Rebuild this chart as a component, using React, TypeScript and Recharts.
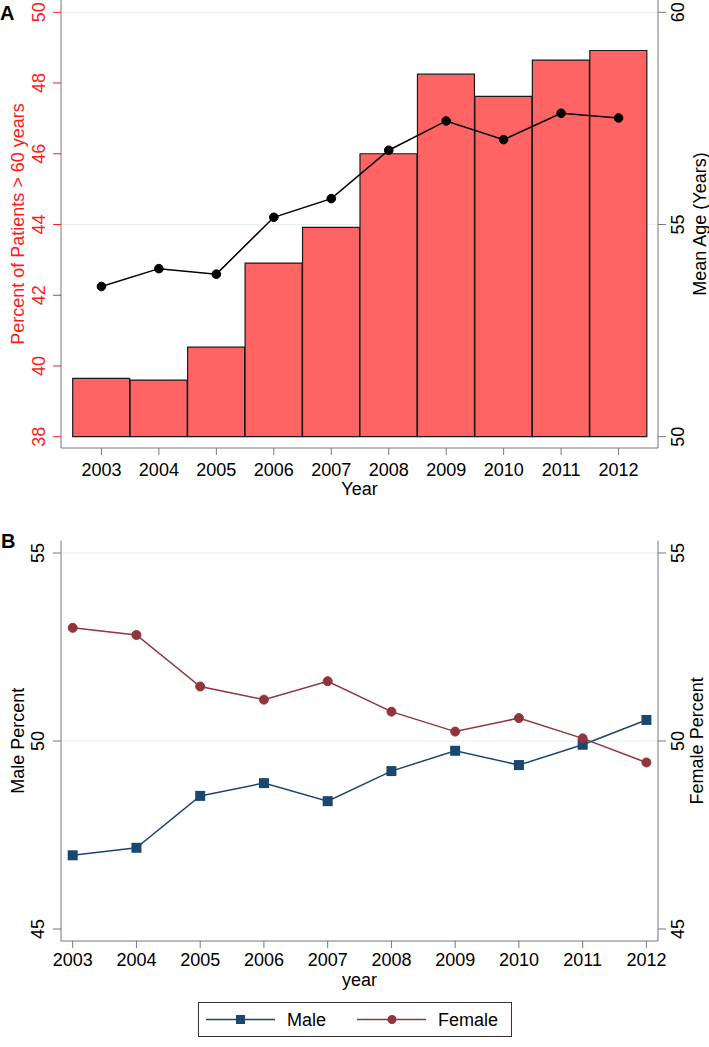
import React from 'react';
import {
  ComposedChart,
  LineChart,
  Bar,
  Line,
  XAxis,
  YAxis,
  CartesianGrid,
  Legend,
} from 'recharts';

const years = [2003, 2004, 2005, 2006, 2007, 2008, 2009, 2010, 2011, 2012];
const pctOver60 = [39.65, 39.6, 40.53, 42.91, 43.92, 46.0, 48.25, 47.62, 48.65, 48.92];
const meanAge = [53.54, 53.96, 53.83, 55.17, 55.61, 56.75, 57.44, 57.0, 57.62, 57.51];
const malePct = [46.96, 47.16, 48.54, 48.88, 48.4, 49.2, 49.74, 49.36, 49.9, 50.56];
const femalePct = [53.01, 52.82, 51.45, 51.1, 51.59, 50.78, 50.25, 50.61, 50.07, 49.43];

const pctTicks = [38, 40, 42, 44, 46, 48, 50];
const ageTicks = [50, 55, 60];
const sexTicks = [45, 50, 55];

const topData = years.map((year, i) => ({ year, pct: pctOver60[i], age: meanAge[i] }));
const bottomData = years.map((year, i) => ({ year, male: malePct[i], female: femalePct[i] }));

const FONT = '"Liberation Sans", Arial, Helvetica, sans-serif';
const AXIS = '#777777';
const RED = '#ff1a1a';
const NAVY = '#1a476f';
const MAROON = '#90353b';

const RotTick = (props: any) => {
  const { x, y, payload, dx, color } = props;
  const cx = x + dx;
  return (
    <text
      x={cx}
      y={y}
      transform={`rotate(-90 ${cx} ${y})`}
      textAnchor="middle"
      dominantBaseline="central"
      fill={color}
      fontSize={18}
      fontFamily={FONT}
    >
      {payload.value}
    </text>
  );
};

const vTitle = (text: string, dx: number, color: string) => (props: any) => {
  const vb = props.viewBox || { x: 0, y: 0, width: 0, height: 0 };
  const cx = vb.x + dx;
  const cy = vb.y + vb.height / 2;
  return (
    <text
      x={cx}
      y={cy}
      transform={`rotate(-90 ${cx} ${cy})`}
      textAnchor="middle"
      dominantBaseline="central"
      fill={color}
      fontSize={18}
      fontFamily={FONT}
    >
      {text}
    </text>
  );
};

const hTitle = (text: string, dy: number) => (props: any) => {
  const vb = props.viewBox || { x: 0, y: 0, width: 0, height: 0 };
  return (
    <text x={vb.x + vb.width / 2} y={vb.y + dy} textAnchor="middle" fill="#000" fontSize={18} fontFamily={FONT}>
      {text}
    </text>
  );
};

const SquareDot = (props: any) => {
  const { cx, cy, index } = props;
  return <rect key={`sq-${index}`} x={cx - 5} y={cy - 5} width={10} height={10} fill={NAVY} />;
};

const LegendBox = () => (
  <div style={{ height: 46, paddingTop: 11, boxSizing: 'border-box', display: 'flex', justifyContent: 'center' }}>
    <svg width={314} height={35} style={{ display: 'block', marginLeft: 1 }}>
      <rect x={0.5} y={0.5} width={313} height={34} fill="#fff" stroke="#333" strokeWidth={1} />
      <line x1={8} y1={17.5} x2={77} y2={17.5} stroke={NAVY} strokeWidth={1.5} />
      <rect x={38} y={13} width={9} height={9} fill={NAVY} />
      <text x={89} y={24} fontSize={18} fontFamily={FONT} fill="#000">Male</text>
      <line x1={159} y1={17.5} x2={228} y2={17.5} stroke={MAROON} strokeWidth={1.5} />
      <circle cx={194} cy={17.5} r={4.5} fill={MAROON} />
      <text x={240} y={24} fontSize={18} fontFamily={FONT} fill="#000">Female</text>
    </svg>
  </div>
);

export default function App() {
  return (
    <div style={{ position: 'absolute', left: 0, top: 0, width: 709, height: 1047, background: '#fff', fontFamily: FONT }}>
      <svg width={30} height={30} style={{ position: 'absolute', left: 0, top: 0 }}>
        <text x={0} y={19.5} fontSize={20} fontWeight="bold" fontFamily={FONT}>A</text>
      </svg>
      <svg width={30} height={30} style={{ position: 'absolute', left: 0, top: 525 }}>
        <text x={1} y={22.5} fontSize={20} fontWeight="bold" fontFamily={FONT}>B</text>
      </svg>

      <div style={{ position: 'absolute', left: 0, top: 0 }}>
        <ComposedChart
          width={709}
          height={510}
          data={topData}
          margin={{ top: 0, right: 0, bottom: 0, left: 0 }}
          barCategoryGap={0}
          barGap={0}
        >
          <CartesianGrid yAxisId="right" vertical={false} horizontalValues={[55, 60]} stroke="#e6eeee" strokeWidth={1.2} />
          <XAxis
            dataKey="year"
            height={62}
            padding={{ left: 11.7, right: 10.7 }}
            stroke={AXIS}
            tickSize={7}
            tickMargin={8}
            tick={{ fill: '#000', fontSize: 18, fontFamily: FONT }}
            label={{ content: hTitle('Year', 47) }}
          />
          <YAxis
            yAxisId="left"
            orientation="left"
            width={61}
            domain={[38, 50]}
            ticks={pctTicks}
            padding={{ top: 12.3, bottom: 11.3 }}
            stroke={AXIS}
            tickLine={{ stroke: RED }}
            tickSize={8}
            tickMargin={0}
            tick={(p: any) => <RotTick {...p} dx={-13.7} color={RED} />}
            label={{ content: vTitle('Percent of Patients > 60 years', 18.3, RED) }}
          />
          <YAxis
            yAxisId="right"
            orientation="right"
            width={51}
            domain={[50, 60]}
            ticks={ageTicks}
            padding={{ top: 12.3, bottom: 11.3 }}
            stroke={AXIS}
            tickSize={8}
            tickMargin={0}
            tick={(p: any) => <RotTick {...p} dx={12.3} color="#000" />}
            label={{ content: vTitle('Mean Age (Years)', 42, '#000') }}
          />
          <Bar
            yAxisId="left"
            dataKey="pct"
            fill="#ff6464"
            stroke="#1a1a1a"
            strokeWidth={1.2}
            isAnimationActive={false}
          />
          <Line
            yAxisId="right"
            dataKey="age"
            type="linear"
            stroke="#000"
            strokeWidth={1.5}
            dot={{ r: 4.3, fill: '#000', stroke: '#000', strokeWidth: 1 }}
            activeDot={false}
            isAnimationActive={false}
          />
        </ComposedChart>
      </div>

      <div style={{ position: 'absolute', left: 0, top: 530 }}>
        <LineChart
          width={709}
          height={507}
          data={bottomData}
          margin={{ top: 10.7, right: 0, bottom: 0, left: 0 }}
        >
          <CartesianGrid yAxisId="left" vertical={false} horizontalValues={[50, 55]} stroke="#e6eeee" strokeWidth={1.2} />
          <XAxis
            dataKey="year"
            type="number"
            domain={[2003, 2012]}
            ticks={years}
            allowDecimals={false}
            height={50}
            padding={{ left: 11.7, right: 11.6 }}
            stroke={AXIS}
            tickSize={7}
            tickMargin={5}
            tick={{ fill: '#000', fontSize: 18, fontFamily: FONT }}
            label={{ content: hTitle('year', 45.4) }}
          />
          <YAxis
            yAxisId="left"
            orientation="left"
            width={61}
            domain={[45, 55]}
            ticks={sexTicks}
            padding={{ top: 12.3, bottom: 12 }}
            stroke={AXIS}
            tickSize={8}
            tickMargin={0}
            tick={(p: any) => <RotTick {...p} dx={-14.7} color="#000" />}
            label={{ content: vTitle('Male Percent', 18.3, '#000') }}
          />
          <YAxis
            yAxisId="right"
            orientation="right"
            width={51}
            domain={[45, 55]}
            ticks={sexTicks}
            padding={{ top: 12.3, bottom: 12 }}
            stroke={AXIS}
            tickSize={8}
            tickMargin={0}
            tick={(p: any) => <RotTick {...p} dx={12.3} color="#000" />}
            label={{ content: vTitle('Female Percent', 38.7, '#000') }}
          />
          <Legend verticalAlign="bottom" content={() => <LegendBox />} />
          <Line
            yAxisId="left"
            dataKey="male"
            type="linear"
            stroke={NAVY}
            strokeWidth={1.5}
            dot={SquareDot}
            activeDot={false}
            isAnimationActive={false}
          />
          <Line
            yAxisId="right"
            dataKey="female"
            type="linear"
            stroke={MAROON}
            strokeWidth={1.5}
            dot={{ r: 4.5, fill: MAROON, stroke: MAROON, strokeWidth: 1 }}
            activeDot={false}
            isAnimationActive={false}
          />
        </LineChart>
      </div>
    </div>
  );
}
